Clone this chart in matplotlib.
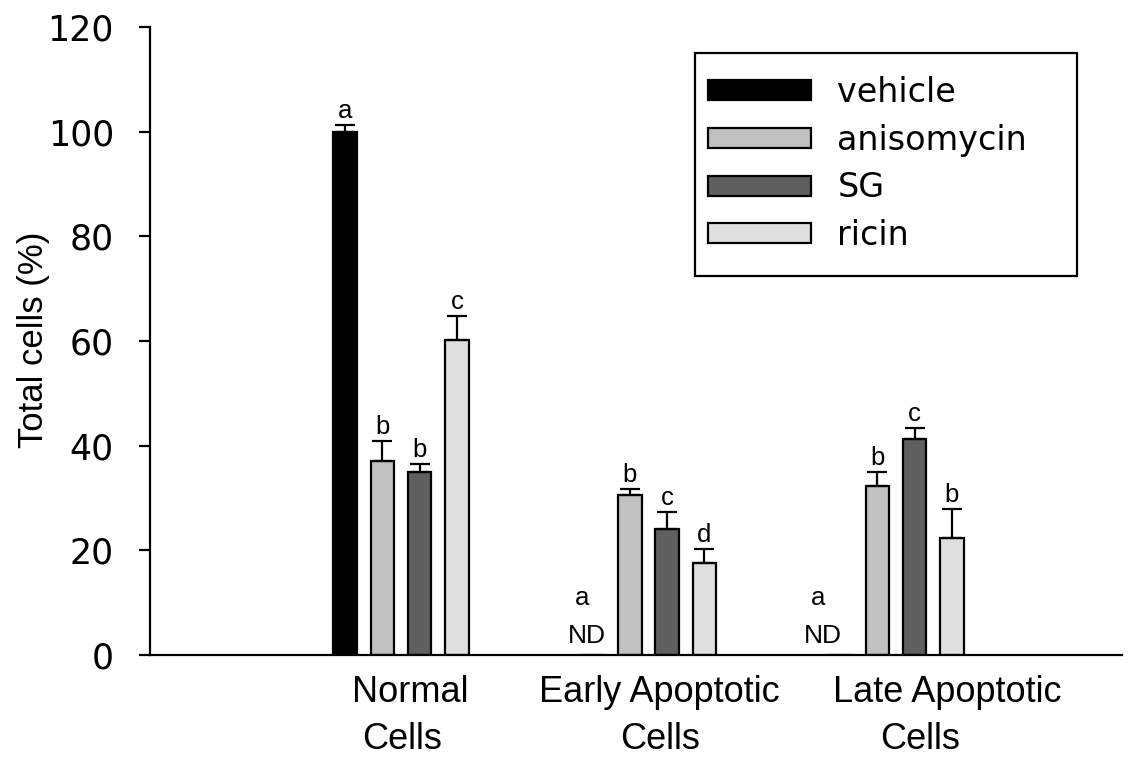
import numpy as np
import matplotlib
matplotlib.use("Agg")
import matplotlib.pyplot as plt
from matplotlib.patches import Patch, Rectangle

plt.rcParams['font.family'] = ['Liberation Sans', 'DejaVu Sans']

# Data
groups = ["Normal\nCells", "Early Apoptotic\nCells", "Late Apoptotic\nCells"]
series = ["vehicle", "anisomycin", "SG", "ricin"]
vehicle = [100.0, 0.0, 0.0]
anisomycin = [37.1, 30.6, 32.3]
sg = [34.9, 24.0, 41.2]
ricin = [60.2, 17.5, 22.4]
vehicle_err = [1.3, 0.0, 0.0]
anisomycin_err = [3.8, 1.1, 2.7]
sg_err = [1.6, 3.3, 2.2]
ricin_err = [4.5, 2.8, 5.5]
letters_vehicle = ["a", "a", "a"]
letters_anisomycin = ["b", "b", "b"]
letters_sg = ["b", "c", "c"]
letters_ricin = ["c", "d", "b"]
not_detected = [False, True, True]
yticks = [0, 20, 40, 60, 80, 100, 120]

colors = ["#000000", "#c0c0c0", "#5f5f5f", "#dfdfdf"]

W, H = 1138, 759
fig = plt.figure(figsize=(W / 100, H / 100), dpi=100)
ax = fig.add_axes([150 / W, 1 - 655 / H, (1122 - 150) / W, (655 - 27) / H])
aw, ah = 1122 - 150, 655 - 27


def ax_xy(px, py):
    """Pixel position in the figure -> axes fraction."""
    return (px - 150) / aw, (655 - py) / ah


x = np.arange(len(groups))
step = 0.1507
width = 0.095
values = [vehicle, anisomycin, sg, ricin]
errs = [vehicle_err, anisomycin_err, sg_err, ricin_err]
letters = [letters_vehicle, letters_anisomycin, letters_sg, letters_ricin]

for i, (vals, err, col, lets) in enumerate(zip(values, errs, colors, letters)):
    pos = x + (i - 1.5) * step
    ax.bar(pos, vals, width=width, color=col, edgecolor="black",
           linewidth=1.6, zorder=2)
    for p, v, e, lt, nd in zip(pos, vals, err, lets, not_detected):
        if i == 0 and nd:
            continue
        ax.errorbar(p, v, yerr=[[0], [e]], fmt="none", ecolor="black",
                    elinewidth=1.6, capsize=7.5, capthick=1.6, zorder=3)
        ax.annotate(lt, (p, v + e), xytext=(0, 5), textcoords="offset points",
                    ha="center", va="baseline", fontsize=18.5)

# Not detected markers for the vehicle group
nd_offsets = {1: -0.248, 2: -0.295}
for g, nd in enumerate(not_detected):
    if nd:
        xo = g + nd_offsets[g]
        ax.text(xo, 3.6, "ND", ha="center", va="center", fontsize=19)
        ax.text(xo - 0.02, 10.9, letters_vehicle[g], ha="center",
                va="center", fontsize=18.5)

ax.set_xlim(-1.014, 2.913)
ax.set_ylim(0, 120)
ax.set_yticks(yticks)
ax.tick_params(axis="y", direction="out", length=8, width=1.6, pad=18,
               labelsize=25)
for lab in ax.get_yticklabels():
    lab.set_family("DejaVu Sans")
ax.set_xticks([])
for s in ["top", "right"]:
    ax.spines[s].set_visible(False)
ax.spines["left"].set_linewidth(1.6)
ax.spines["bottom"].set_linewidth(1.6)

ax.set_ylabel("Total cells (%)", fontsize=25, va="center")
ax.yaxis.set_label_coords(*ax_xy(34, 340))

# Group labels, one line at a time
label_lines = [("Normal", 410, 692), ("Cells", 402, 739),
               ("Early Apoptotic", 659, 692), ("Cells", 660, 739),
               ("Late Apoptotic", 947, 692), ("Cells", 920, 739)]
for txt, px, py in label_lines:
    ax.text((px - 401) / 247.5, -(py - 655) / 5.233, txt, ha="center",
            va="center", fontsize=26, clip_on=False)

# Legend entries, with a separately drawn box around them
handles = [Patch(facecolor=c, edgecolor="black", linewidth=1.6) for c in colors]
leg = ax.legend(handles, series, loc="upper left",
                bbox_to_anchor=ax_xy(708, 76),
                prop={"family": "DejaVu Sans", "size": 24},
                frameon=False, handlelength=3.1, handleheight=0.55,
                handletextpad=0.78, labelspacing=0.44, borderpad=0,
                borderaxespad=0)
bx0, by0 = ax_xy(695, 276)
bx1, by1 = ax_xy(1077, 53)
ax.add_patch(Rectangle((bx0, by0), bx1 - bx0, by1 - by0, transform=ax.transAxes,
                       facecolor="white", edgecolor="black", linewidth=1.6,
                       zorder=4))
leg.set_zorder(5)

fig.savefig("out.png", dpi=100)
